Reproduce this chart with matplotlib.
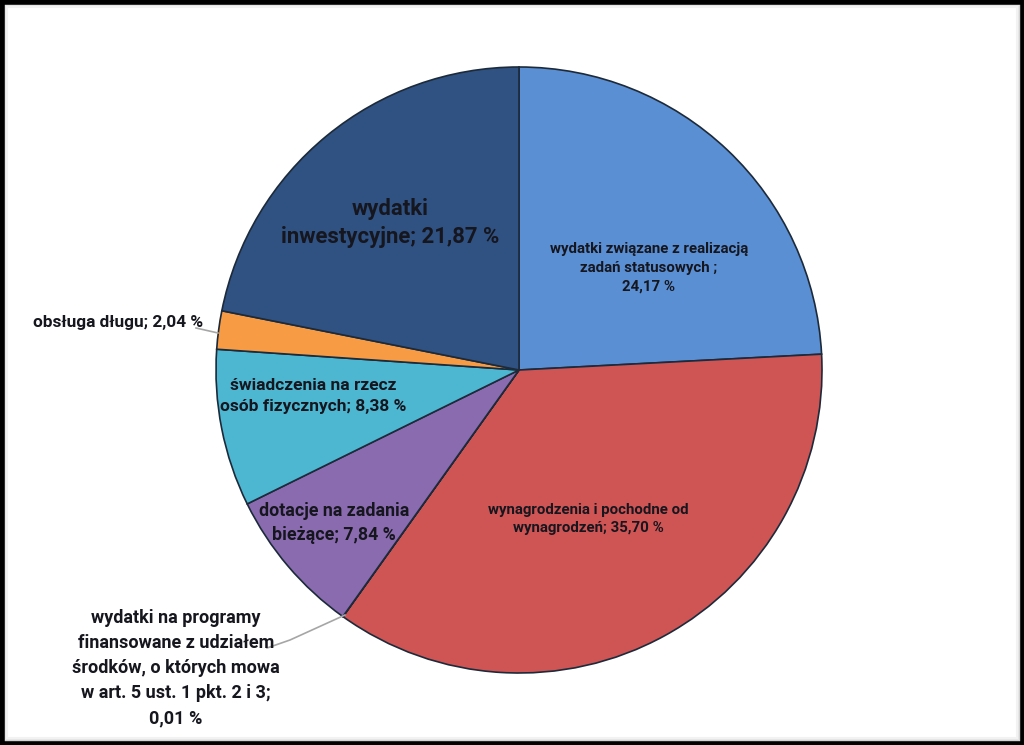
import matplotlib.pyplot as plt
from matplotlib.patches import Rectangle

# data (clockwise from 12 o'clock)
labels = ["wydatki związane z realizacją\nzadań statusowych ;\n24,17 %",
          "wynagrodzenia i pochodne od\nwynagrodzeń; 35,70 %",
          "wydatki na programy\nfinansowane z udziałem\nśrodków, o których mowa\nw art. 5 ust. 1 pkt. 2 i 3;\n0,01 %",
          "dotacje na zadania\nbieżące; 7,84 %",
          "świadczenia na rzecz\nosób fizycznych; 8,38 %",
          "obsługa długu; 2,04 %",
          "wydatki\ninwestycyjne; 21,87 %"]
values = [24.17, 35.70, 0.01, 7.84, 8.38, 2.04, 21.87]
colors = ["#5A8FD3", "#CF5454", "#9B6FC0", "#8A6BB0", "#4DB7D2", "#F89B45", "#2F5283"]

W, H = 1024, 745
fig = plt.figure(figsize=(W / 100, H / 100), dpi=100)
ax = fig.add_axes([0, 0, 1, 1])

# frame with inner grey shadow
for i, c in enumerate(["#bfbfbf", "#d4d4d4", "#e6e6e6", "#f2f2f2"]):
    fig.patches.append(Rectangle((4 + i, 4 + i), W - 8 - 2 * i, H - 8 - 2 * i,
                                 transform=None, fill=False, ec=c, lw=1.5))
fig.patches.append(Rectangle((1.5, 1.5), W - 3, H - 3, transform=None,
                             fill=False, ec="black", lw=4))

cx, cy, r = 519, 370, 303
# y axis is inverted, so counterclock=True draws clockwise on screen; start at top
wedges, _ = ax.pie(values, colors=colors, startangle=-90, counterclock=True,
                   center=(cx, cy), radius=r, frame=True,
                   wedgeprops=dict(edgecolor="#1c2a3a", linewidth=1.2))
ax.set_xlim(0, W)
ax.set_ylim(H, 0)
ax.set_aspect("equal")
ax.axis("off")

font = "Roboto"
# label positions (screen px)
pos = [(649, 268), (588, 519), (176, 668), (334, 523), (313, 396), (118, 322), (390, 223)]
sizes = [10.8, 10.8, 13.0, 12.8, 12.5, 12.4, 15.9]
spacing = [1.45, 1.38, 1.5, 1.48, 1.58, 1.2, 1.33]
for lab, (x, y), s, ls in zip(labels, pos, sizes, spacing):
    ax.text(x, y, lab, ha="center", va="center", fontsize=s, fontweight="bold",
            family=font, color="#16161e", linespacing=ls)

# leader lines
ax.plot([196, 218], [328, 333], color="#a6a6a6", lw=1.2)
ax.plot([267, 290, 345], [648, 640, 615], color="#a6a6a6", lw=1.2)

fig.savefig("out.png", dpi=100)
